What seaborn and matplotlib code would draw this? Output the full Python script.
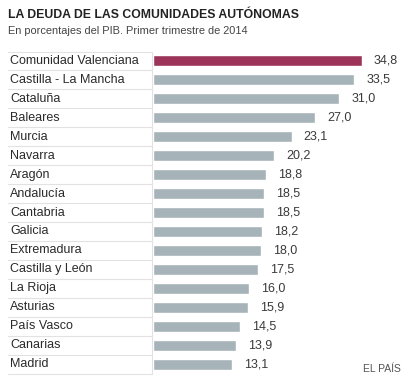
import matplotlib
matplotlib.use("Agg")
import matplotlib.pyplot as plt
import seaborn as sns
import pandas as pd
from matplotlib.lines import Line2D

regions = ["Comunidad Valenciana", "Castilla - La Mancha", "Cataluña", "Baleares",
           "Murcia", "Navarra", "Aragón", "Andalucía", "Cantabria", "Galicia",
           "Extremadura", "Castilla y León", "La Rioja", "Asturias", "País Vasco",
           "Canarias", "Madrid"]
values = [34.8, 33.5, 31.0, 27.0, 23.1, 20.2, 18.8, 18.5, 18.5, 18.2,
          18.0, 17.5, 16.0, 15.9, 14.5, 13.9, 13.1]
value_labels = ["34,8", "33,5", "31,0", "27,0", "23,1", "20,2", "18,8", "18,5", "18,5",
                "18,2", "18,0", "17,5", "16,0", "15,9", "14,5", "13,9", "13,1"]
highlight = "Comunidad Valenciana"

sns.set_theme(style="white")
plt.rcParams['font.family'] = ['Liberation Sans', 'DejaVu Sans']

W, H = 414, 385
fig = plt.figure(figsize=(W / 100, H / 100), dpi=100)

# axes geometry in pixels
x0 = 153
px_per_unit = (362 - 153) / 34.8
xmax = 40
x1 = x0 + px_per_unit * xmax
top, bottom = 51.5, 373.5
ax = fig.add_axes([x0 / W, 1 - bottom / H, (x1 - x0) / W, (bottom - top) / H])

df = pd.DataFrame({"region": regions, "value": values})
palette = {r: ("#9c3459" if r == highlight else "#a6b3b9") for r in regions}
sns.barplot(data=df, y="region", x="value", hue="region", palette=palette,
            order=regions, orient="h", width=0.58, legend=False, ax=ax,
            saturation=1)
ax.set_xlim(0, xmax)
ax.set_ylim(len(regions) - 0.5, -0.5)
ax.axis("off")

for i, (v, lab) in enumerate(zip(values, value_labels)):
    ax.text(v + 12 / px_per_unit, i, lab, va="center", ha="left",
            fontsize=9, color="#3a3a3a")

# label column
sep_color = "#e2e2e2"
row_h = (bottom - top) / len(regions)
for i, r in enumerate(regions):
    yc = top + row_h * (i + 0.5)
    fig.text(10 / W, 1 - yc / H, r, ha="left", va="center", fontsize=9,
             color="#2a2a2a")
for i in range(len(regions) + 1):
    yb = top + row_h * i
    fig.add_artist(Line2D([8 / W, 152 / W], [1 - yb / H, 1 - yb / H],
                          color=sep_color, lw=0.8))
fig.add_artist(Line2D([152 / W, 152 / W], [1 - top / H, 1 - bottom / H],
                      color=sep_color, lw=0.8))

fig.text(8 / W, 1 - 15 / H, "LA DEUDA DE LAS COMUNIDADES AUTÓNOMAS",
         ha="left", va="center", fontsize=8.85, fontweight="bold", color="#222222")
fig.text(8 / W, 1 - 31 / H, "En porcentajes del PIB. Primer trimestre de 2014",
         ha="left", va="center", fontsize=7.9, color="#444444")
fig.text(401 / W, 1 - 369 / H, "EL PAÍS", ha="right", va="center",
         fontsize=7.5, color="#555555")

fig.savefig("out.png", dpi=100)
